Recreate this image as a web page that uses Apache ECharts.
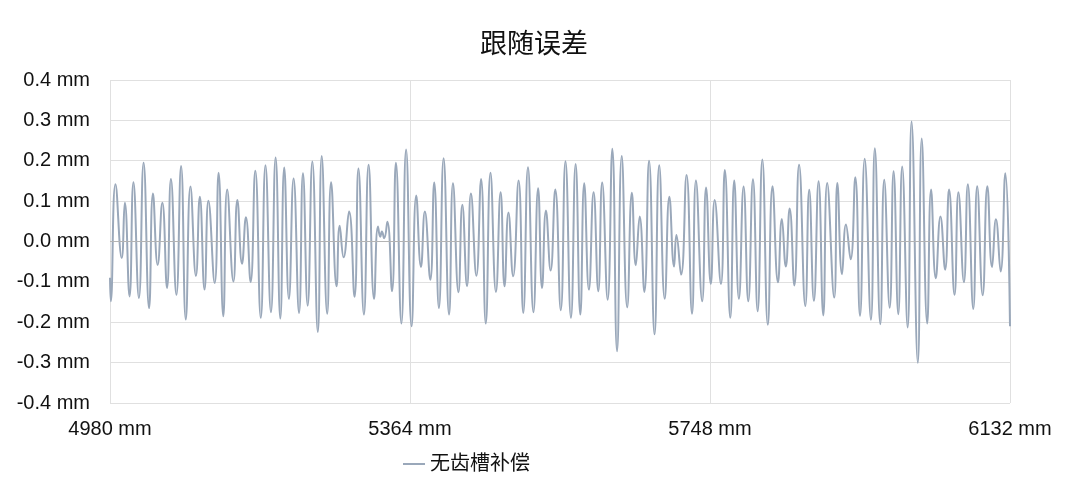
<!DOCTYPE html>
<html>
<head>
<meta charset="utf-8">
<title>跟随误差</title>
<script src="https://cdn.jsdelivr.net/npm/echarts@6/dist/echarts.min.js"></script>
<style>
  html, body { margin: 0; padding: 0; background: #fff; }
  #chart { width: 1080px; height: 488px; }
</style>
</head>
<body>
<div id="chart"></div>
<script>
// position along the axis (mm), read at each peak / trough
var positions = [
  4980, 4981, 4987, 4995, 4999, 5005, 5010, 5017, 5023, 5030, 5035, 5041, 5047, 5053, 5058, 5065,
  5071, 5077, 5083, 5090, 5095, 5101, 5106, 5114, 5119, 5125,
  5130, 5138, 5143, 5149, 5154, 5160, 5166, 5173, 5179, 5186, 5192, 5198, 5203, 5209, 5215, 5222,
  5227, 5233, 5239, 5246, 5251, 5258, 5263, 5270,
  5274, 5279, 5286, 5293, 5298, 5305, 5311, 5318, 5323, 5326, 5328, 5331, 5335, 5341, 5346, 5353,
  5359, 5366, 5372, 5378, 5383, 5390, 5395, 5401, 5407, 5414,
  5419, 5426, 5431, 5437, 5442, 5449, 5455, 5461, 5467, 5474, 5480, 5485, 5490, 5496, 5503, 5509,
  5515, 5522, 5528, 5533, 5538, 5544, 5550, 5557, 5563,
  5570, 5576, 5582, 5587, 5593, 5599, 5605, 5610, 5617, 5623, 5629, 5635, 5642, 5648, 5653, 5658,
  5664, 5670, 5677, 5683, 5690, 5696, 5702, 5705, 5711,
  5718, 5725, 5730, 5738, 5743, 5749, 5754, 5762, 5767, 5774, 5779, 5785, 5791, 5797, 5803, 5809,
  5815, 5822, 5828, 5835, 5840, 5845, 5850, 5856,
  5862, 5870, 5875, 5881, 5887, 5893, 5898, 5907, 5911, 5917, 5922, 5928, 5934, 5940, 5946, 5954,
  5959, 5966, 5971, 5978, 5983, 5989, 5994, 6001, 6006,
  6014, 6019, 6026, 6031, 6037, 6043, 6049, 6054, 6061, 6066, 6073, 6078, 6085, 6090, 6097, 6103,
  6109, 6114, 6120, 6126, 6132
]

// following error (mm) without cogging compensation
var errorNoComp = [
  -0.09, -0.148, 0.142, -0.041, 0.096, -0.136, 0.147, -0.14, 0.195, -0.165, 0.119, -0.058, 0.096, -0.115, 0.155, -0.132,
  0.187, -0.193, 0.136, -0.085, 0.111, -0.119, 0.101, -0.103, 0.170, -0.185,
  0.129, -0.099, 0.103, -0.055, 0.060, -0.100, 0.175, -0.189, 0.189, -0.175, 0.208, -0.191, 0.183, -0.142, 0.156, -0.177,
  0.169, -0.159, 0.198, -0.224, 0.212, -0.179, 0.147, -0.111,
  0.039, -0.039, 0.074, -0.137, 0.181, -0.181, 0.190, -0.142, 0.037, 0.012, 0.025, 0.008, 0.049, -0.123, 0.195, -0.203,
  0.228, -0.210, 0.114, -0.063, 0.074, -0.095, 0.146, -0.165, 0.206, -0.181,
  0.144, -0.126, 0.091, -0.111, 0.119, -0.085, 0.155, -0.203, 0.170, -0.125, 0.122, -0.111, 0.072, -0.086, 0.151, -0.177,
  0.184, -0.175, 0.132, -0.115, 0.077, -0.072, 0.129, -0.170, 0.199,
  -0.189, 0.192, -0.181, 0.144, -0.119, 0.122, -0.123, 0.146, -0.144, 0.230, -0.272, 0.212, -0.163, 0.121, -0.059, 0.062,
  -0.125, 0.200, -0.230, 0.189, -0.142, 0.111, -0.062, 0.016, -0.082,
  0.165, -0.179, 0.151, -0.148, 0.134, -0.105, 0.103, -0.105, 0.177, -0.189, 0.151, -0.142, 0.136, -0.148, 0.154, -0.173,
  0.203, -0.206, 0.137, -0.101, 0.056, -0.062, 0.082, -0.109,
  0.190, -0.160, 0.128, -0.147, 0.149, -0.183, 0.145, -0.139, 0.145, -0.081, 0.042, -0.044, 0.159, -0.184, 0.205, -0.194,
  0.231, -0.205, 0.153, -0.164, 0.174, -0.180, 0.186, -0.213, 0.297,
  -0.300, 0.255, -0.203, 0.129, -0.091, 0.062, -0.070, 0.129, -0.132, 0.122, -0.101, 0.142, -0.167, 0.137, -0.133, 0.137,
  -0.063, 0.055, -0.074, 0.169, -0.21
]

var xTicks = [4980, 5364, 5748, 6132]
var seriesName = '无齿槽补偿'

var chart = echarts.init(document.getElementById('chart'))

var option = {
  animation: false,
  textStyle: {
    fontFamily: 'Arial, "Liberation Sans", "Noto Sans CJK SC", sans-serif'
  },
  title: {
    text: '跟随误差',
    left: 475,
    top: 27,
    textStyle: {
      fontSize: 27,
      fontWeight: 'normal',
      color: '#111'
    }
  },
  legend: {
    data: [seriesName],
    top: 449,
    left: 398,
    itemWidth: 22,
    itemHeight: 2,
    itemGap: 10,
    icon: 'rect',
    textStyle: {
      fontSize: 20,
      color: '#111'
    }
  },
  grid: {
    left: 110,
    right: 70,
    top: 80,
    bottom: 85
  },
  xAxis: {
    type: 'value',
    min: xTicks[0],
    max: xTicks[xTicks.length - 1],
    interval: xTicks[1] - xTicks[0],
    axisLine: { show: false },
    axisTick: { show: false },
    axisLabel: {
      color: '#111',
      fontSize: 20,
      margin: 16,
      formatter: function (v) { return v + ' mm' }
    },
    splitLine: {
      show: true,
      lineStyle: { color: '#e0e0e0', width: 1 }
    }
  },
  yAxis: {
    type: 'value',
    min: -0.4,
    max: 0.4,
    interval: 0.1,
    axisLine: { show: false },
    axisTick: { show: false },
    axisLabel: {
      color: '#111',
      fontSize: 20,
      margin: 20,
      formatter: function (v) { return v.toFixed(1) + ' mm' }
    },
    splitLine: {
      lineStyle: { color: '#e0e0e0', width: 1 }
    }
  },
  series: [
    {
      name: seriesName,
      type: 'line',
      data: positions.map(function (p, i) { return [p, errorNoComp[i]] }),
      smooth: 0.5,
      showSymbol: false,
      lineStyle: { color: '#9aa8ba', width: 2 },
      itemStyle: { color: '#9aa8ba' },
      markLine: {
        silent: true,
        symbol: 'none',
        label: { show: false },
        lineStyle: { color: '#b4b4b4', width: 1, type: 'solid' },
        data: [{ yAxis: 0 }]
      }
    }
  ]
}

chart.setOption(option)
</script>
</body>
</html>
